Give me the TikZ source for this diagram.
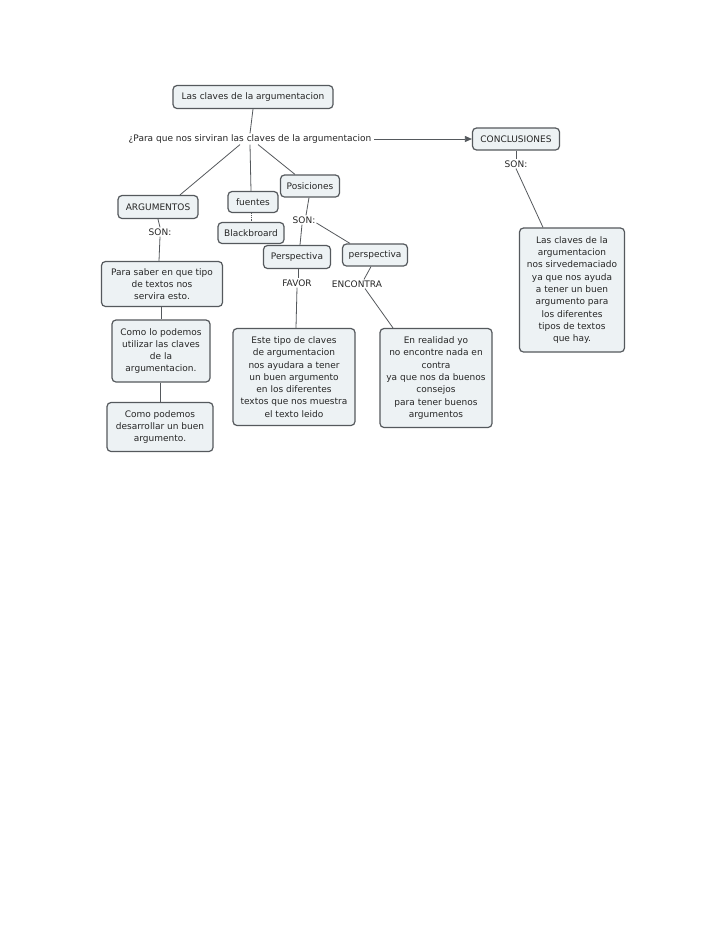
\documentclass[tikz,border=0pt]{standalone}
\usepackage{fontspec}
\setmainfont{DejaVu Sans}
\usetikzlibrary{arrows.meta}
\definecolor{boxfill}{HTML}{EDF2F4}
\definecolor{boxline}{HTML}{55595D}
\definecolor{txt}{HTML}{262626}
\begin{document}
\begin{tikzpicture}[x=1pt,y=-1pt,
  cbox/.style={draw=boxline,line width=1.2pt,fill=boxfill,rounded corners=4pt,align=center,
    text=txt,font=\fontsize{9}{12.3}\selectfont,inner sep=2pt,anchor=center},
  lbl/.style={text=txt,font=\fontsize{9}{12.3}\selectfont,inner sep=1pt},
  link/.style={draw=boxline,line width=0.8pt}]
\useasboundingbox[fill=white] (0,0) rectangle (728,943);

\node[cbox,minimum width=160pt,minimum height=23pt] (top) at (253,97) {Las claves de la argumentacion};
\node[lbl] (q) at (250,139) {¿Para que nos sirviran las claves de la argumentacion};
\node[cbox,minimum width=87pt,minimum height=22pt] (concl) at (516,139) {CONCLUSIONES};
\node[lbl] (son3) at (516,164) {SON:};
\node[cbox,minimum width=105pt,minimum height=124pt] (ct) at (572,290) {Las claves de la\\argumentacion\\nos sirvedemaciado\\ya que nos ayuda\\a tener un buen\\argumento para\\los diferentes\\tipos de textos\\que hay.};

\node[cbox,minimum width=80pt,minimum height=23pt] (arg) at (158,207) {ARGUMENTOS};
\node[lbl] (son1) at (160,232) {SON:};
\node[cbox,minimum width=121pt,minimum height=45pt] (para) at (162,284) {Para saber en que tipo\\de textos nos\\servira esto.};
\node[cbox,minimum width=98pt,minimum height=62pt] (como1) at (161,351) {Como lo podemos\\utilizar las claves\\de la\\argumentacion.};
\node[cbox,minimum width=106pt,minimum height=49pt] (como2) at (160,427) {Como podemos\\desarrollar un buen\\argumento.};

\node[cbox,minimum width=50pt,minimum height=21pt] (fue) at (253,202) {fuentes};
\node[cbox,minimum width=66pt,minimum height=21pt] (bb) at (251,233) {Blackbroard};

\node[cbox,minimum width=59pt,minimum height=22pt] (pos) at (310,186) {Posiciones};
\node[lbl] (son2) at (304,220) {SON:};
\node[cbox,minimum width=67pt,minimum height=23pt] (p1) at (297,257) {Perspectiva};
\node[cbox,minimum width=65pt,minimum height=22pt] (p2) at (375,255) {perspectiva};
\node[lbl] (fav) at (297,283) {FAVOR};
\node[lbl] (enc) at (357,284) {ENCONTRA};
\node[cbox,minimum width=122pt,minimum height=97pt] (este) at (294,377) {Este tipo de claves\\de argumentacion\\nos ayudara a tener\\un buen argumento\\en los diferentes\\textos que nos muestra\\el texto leido};
\node[cbox,minimum width=112pt,minimum height=99pt] (real) at (436,378) {En realidad yo\\no encontre nada en\\contra\\ya que nos da buenos\\consejos\\para tener buenos\\argumentos};

% connectors
\draw[link] (top.south) -- (q.north);
\draw[link,-{Triangle[length=7pt,width=6pt]}] ([xshift=2pt]q.east) -- (concl.west);
\draw[link] (concl.south) -- (son3.north);
\draw[link] (son3.south) -- (ct.north -| 543,0);
\draw[link] (q.south -| 240,0) -- (arg.north -| 180,0);
\draw[link] (q.south -| 250,0) -- (fue.north -| 251,0);
\draw[link] (q.south -| 258,0) -- (pos.north -| 295,0);
\draw[link] (arg.south) -- (son1.north);
\draw[link] (son1.south) -- (para.north -| 159,0);
\draw[link] (para.south -| 161,0) -- (como1.north -| 161,0);
\draw[link] (como1.south -| 160,0) -- (como2.north -| 160,0);
\draw[link,densely dotted] (fue.south -| 251,0) -- (bb.north);
\draw[link] (pos.south -| 309,0) -- (son2.north -| 306,0);
\draw[link] (son2.south -| 302,0) -- (p1.north -| 300,0);
\draw[link] (son2.east) ++(0,3) -- (p2.north -| 350,0);
\draw[link] (p1.south -| 298,0) -- (fav.north -| 298,0);
\draw[link] (p2.south -| 371,0) -- (enc.north -| 364,0);
\draw[link] (fav.south -| 297,0) -- (este.north -| 296,0);
\draw[link] (enc.south -| 365,0) -- (real.north -| 393,0);
\end{tikzpicture}
\end{document}
